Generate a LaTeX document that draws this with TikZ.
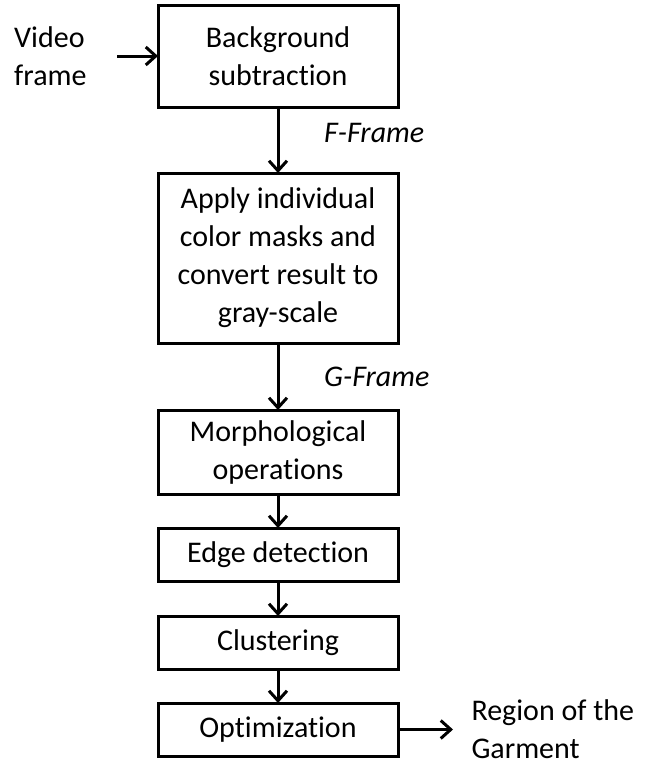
\documentclass[tikz,border=0pt]{standalone}
\usepackage{fontspec}
\setmainfont{Carlito}[Ligatures={NoCommon}]
\usetikzlibrary{positioning,arrows.meta}

\begin{document}
\begin{tikzpicture}[->,>={Straight Barb[length=5pt,width=9pt]},line width=1.5pt,node distance=17pt,font=\fontsize{15pt}{19pt}\selectfont,box node/.style={rectangle,draw=black,minimum width=120pt,align=center,inner sep=2pt,outer sep=0pt},side node/.style={align=left,inner sep=0pt}]
                    \useasboundingbox (0,0) rectangle (333.5pt,-381pt);
                    \node[box node, minimum height=51pt] (1) at (139pt,-28pt) {Background\\subtraction};
                    \node[box node, minimum height=85pt] (2) [below=33pt of 1] {Apply individual\\color masks and\\convert result to\\gray-scale};
                    \node[box node, minimum height=42pt] (3) [below=33.5pt of 2] {Morphological\\operations};
                    \node[box node, minimum height=26.5pt] (4) [below=of 3] {Edge detection};
                    \node[box node, minimum height=26.5pt] (5) [below=17.5pt of 4] {Clustering};
                    \node[box node, minimum height=26.5pt] (6) [below=of 5] {Optimization};
                    \node[side node] (0) [left=35pt of 1] {Video\\frame};
                    \node[side node] (7) [right=36pt of 6] {Region of the\\Garment};

                    \path[every node/.style={font=\fontsize{15pt}{19pt}\selectfont\itshape}]
                        (0) edge[shorten <=14.5pt] (1)
                        (1) edge node [right=19pt, pos=0.4]{F-Frame}(2)
                        (2) edge node [right=19pt]{G-Frame}(3)
                        (3) edge (4)
                        (4) edge (5)
                        (5) edge (6)
                        (6) edge[shorten >=8.5pt] (7)
                        ;
                \end{tikzpicture}
\end{document}
